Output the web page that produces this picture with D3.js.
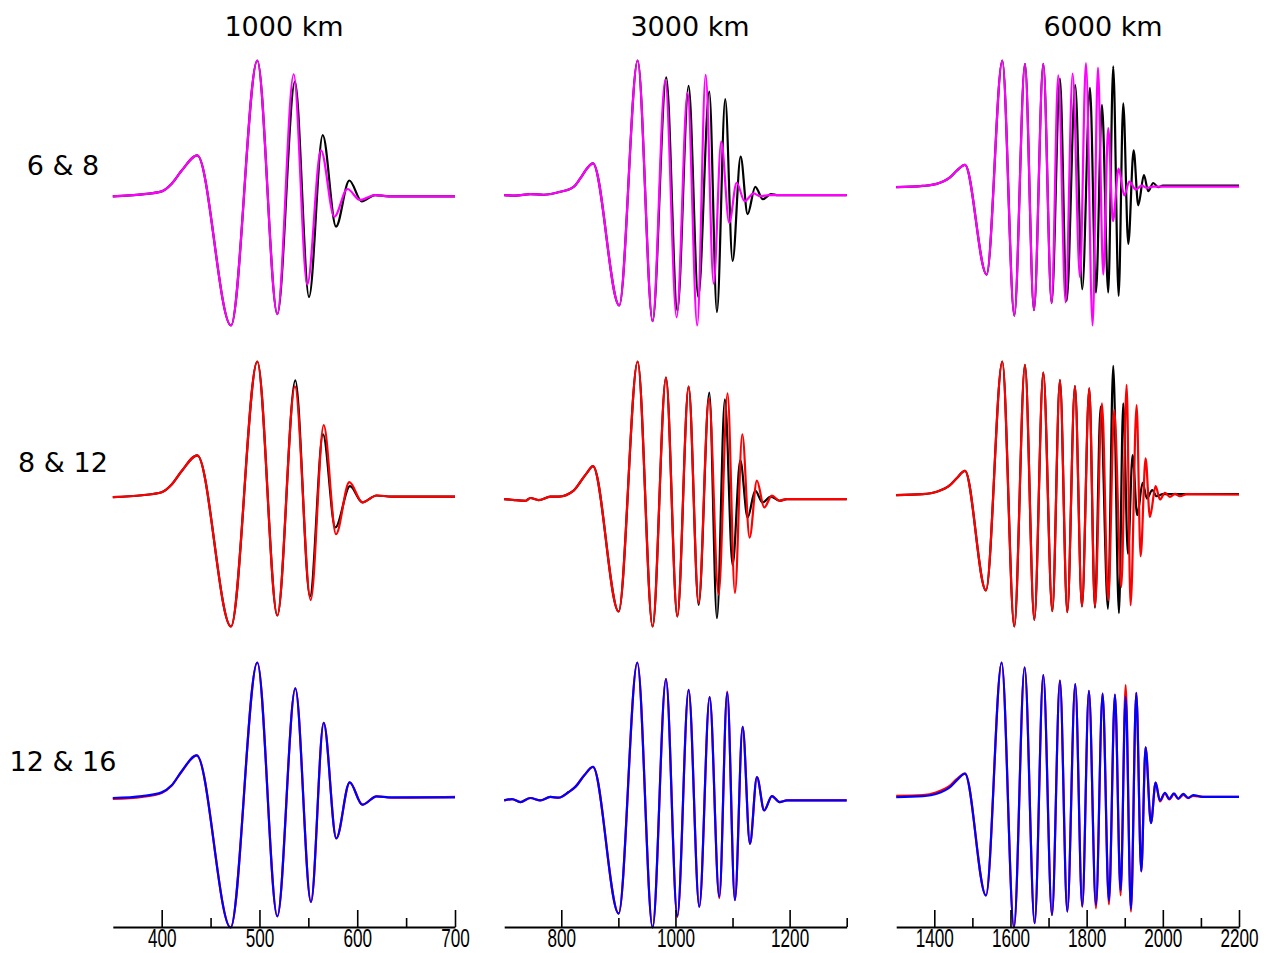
<!DOCTYPE html>
<html>
<head>
<meta charset="utf-8">
<script src="https://cdn.jsdelivr.net/npm/d3@7"></script>
<style>
  html, body { margin: 0; padding: 0; background: #fff; }
  svg { display: block; }
</style>
</head>
<body>
<svg id="chart" width="1270" height="953"></svg>
<script>
// Column and row labels
const columnTitles = ["1000 km", "3000 km", "6000 km"];
const rowLabels = ["6 & 8", "8 & 12", "12 & 16"];

// Time axis of each column
const xDomains = [[350, 700], [700, 1300], [1300, 2200]];
const majorTicks = [[400, 500, 600, 700], [800, 1000, 1200], [1400, 1600, 1800, 2000, 2200]];
const minorTicks = [[450, 550, 650], [900, 1100, 1300], [1500, 1700, 1900, 2100]];

// Waveform samples: [time, amplitude]
// Row 1 (6 & 8)
const w1000_r1_ref = [[350,0],[380,0.015],[400,0.038],[410,0.095],[420.5,0.197],[436.4,0.313],[470.9,-0.987],[497.8,1.038],[518.3,-0.9],[536.3,0.877],[550.7,-0.769],[564.7,0.467],[578.3,-0.231],[591.9,0.121],[604.6,-0.038],[618.2,0.01],[632,0],[700,0]];
const w1000_r1_cmp = [[350,0],[380,0.015],[400,0.038],[410,0.095],[420.5,0.197],[436.4,0.313],[470.9,-0.987],[497.8,1.038],[518.3,-0.9],[535.0,0.933],[548.9,-0.674],[562.9,0.351],[576.6,-0.156],[589.9,0.056],[602.8,-0.028],[618.2,0.01],[632,0],[700,0]];
const w3000_r1_ref = [[700,0],[720,-0.003],[745.8,0.008],[769.1,0.003],[798.3,0.026],[821.6,0.064],[833.3,0.128],[845,0.205],[855.5,0.244],[901.6,-0.846],[933.8,1.033],[960.0,-0.967],[983.9,0.903],[1003.3,-0.887],[1023.1,0.838],[1040,-0.782],[1059.3,0.795],[1072.7,-0.897],[1087.2,0.736],[1100.1,-0.505],[1114.2,0.295],[1126.4,-0.146],[1139.8,0.064],[1153.2,-0.031],[1167.2,0.008],[1180,0],[1300,0]];
const w3000_r1_cmp = [[700,0],[720,-0.003],[745.8,0.008],[769.1,0.003],[798.3,0.026],[821.6,0.064],[833.3,0.128],[845,0.205],[855.5,0.244],[901.6,-0.846],[933.8,1.033],[960.0,-0.967],[982.2,0.885],[1002.1,-0.938],[1021.3,0.787],[1038.2,-1.0],[1052.9,0.923],[1066.9,-0.679],[1080.2,0.41],[1094.2,-0.213],[1107.2,0.095],[1121.2,-0.046],[1137,0.013],[1148.5,-0.008],[1165,0],[1300,0]];
const w6000_r1_ref = [[1300,-0.005],[1370,0.005],[1406.2,0.021],[1441.2,0.072],[1458.8,0.123],[1480.6,0.169],[1537.5,-0.685],[1578.6,0.982],[1610.1,-1.005],[1638.1,0.956],[1661.7,-0.962],[1686.2,0.956],[1708.1,-0.908],[1729.9,0.841],[1747.5,-0.89],[1770.1,0.79],[1788.5,-0.8],[1808.7,0.769],[1824.4,-0.826],[1840.2,0.636],[1856.7,-0.826],[1869.8,0.936],[1884,-0.851],[1896.1,0.649],[1909.3,-0.446],[1923.4,0.282],[1935.5,-0.146],[1950.4,0.09],[1961.7,-0.036],[1974.8,0.028],[1988,-0.005],[2000,0.008],[2200,0.008]];
const w6000_r1_cmp = [[1300,-0.005],[1370,0.005],[1406.2,0.021],[1441.2,0.072],[1458.8,0.123],[1480.6,0.169],[1537.5,-0.685],[1578.6,0.982],[1610.1,-1.005],[1638.1,0.956],[1661.7,-0.962],[1686.2,0.956],[1708.1,-0.908],[1725.5,0.867],[1744.8,-0.903],[1763.2,0.879],[1782.4,-0.705],[1798.2,0.962],[1815.7,-1.082],[1829.7,0.926],[1843.6,-0.685],[1856.7,0.456],[1869,-0.269],[1884,0.141],[1898.8,-0.069],[1911.9,0.038],[1929.4,-0.023],[1944.4,0.008],[1957.4,-0.01],[1975,0],[2200,0]];

// Row 2 (8 & 12)
const w1000_r2_ref = [[350,-0.005],[380,0.01],[400,0.033],[410,0.09],[420.5,0.195],[436.4,0.315],[470.9,-0.992],[497.8,1.031],[518.3,-0.908],[536.7,0.887],[551.7,-0.762],[565,0.474],[577.6,-0.236],[592.6,0.079],[605.2,-0.044],[619.9,0.008],[635,0],[700,0]];
const w1000_r2_cmp = [[350,-0.005],[380,0.01],[400,0.033],[410,0.09],[420.5,0.195],[436.4,0.315],[470.9,-0.992],[497.8,1.031],[518.3,-0.908],[536.3,0.841],[552.4,-0.79],[565.7,0.546],[578.3,-0.287],[591.9,0.11],[605.2,-0.044],[619.9,0.008],[635,0],[700,0]];
const w3000_r2_ref = [[700,0],[718,-0.008],[737.6,-0.013],[745.8,0.008],[760.4,-0.008],[780.8,0.018],[795.4,0.018],[821.6,0.064],[833.3,0.13],[845,0.2],[855.5,0.251],[900.5,-0.859],[933.8,1.051],[960,-0.974],[983.4,0.928],[1003.3,-0.897],[1023.1,0.859],[1040.6,-0.808],[1059.3,0.813],[1072.7,-0.91],[1086.6,0.762],[1100.1,-0.505],[1113.6,0.295],[1126.4,-0.141],[1139.8,0.064],[1152.6,-0.026],[1167.2,0.018],[1182.4,-0.013],[1195.3,0],[1300,0]];
const w3000_r2_cmp = [[700,0],[718,-0.008],[737.6,-0.013],[745.8,0.008],[760.4,-0.008],[780.8,0.018],[795.4,0.018],[821.6,0.064],[833.3,0.13],[845,0.2],[855.5,0.251],[900.5,-0.859],[933.8,1.051],[960,-0.974],[983.4,0.928],[1003.3,-0.897],[1023.1,0.859],[1040.6,-0.795],[1058.7,0.769],[1075.6,-0.731],[1091.3,0.808],[1104.2,-0.718],[1117.1,0.495],[1129.9,-0.295],[1142.7,0.141],[1155.5,-0.064],[1169,0.026],[1182.4,-0.013],[1195.3,0],[1300,0]];
const w6000_r2_ref = [[1300,-0.005],[1370,0.003],[1406.2,0.021],[1441.2,0.072],[1458.8,0.125],[1480.6,0.182],[1535.7,-0.736],[1578.6,1.021],[1610.1,-1.013],[1638.1,0.995],[1662.6,-0.962],[1686.2,0.936],[1709.9,-0.895],[1729.9,0.879],[1749.2,-0.903],[1769.3,0.833],[1787.7,-0.859],[1806.9,0.815],[1821.8,-0.869],[1836.7,0.674],[1856,-0.877],[1869.8,0.987],[1884.8,-0.91],[1896.1,0.7],[1908.4,-0.454],[1920.7,0.303],[1932.8,-0.159],[1947,0.09],[1958.3,-0.031],[1972.2,0.033],[1983.7,-0.013],[2000,0.003],[2200,0.003]];
const w6000_r2_cmp = [[1300,-0.005],[1370,0.003],[1406.2,0.021],[1441.2,0.072],[1458.8,0.125],[1480.6,0.182],[1535.7,-0.736],[1578.6,1.021],[1610.1,-1.013],[1638.1,0.995],[1662.6,-0.962],[1686.2,0.936],[1709.9,-0.895],[1729.9,0.879],[1749.2,-0.903],[1769.3,0.833],[1787.7,-0.859],[1806.9,0.815],[1821.8,-0.859],[1840.2,0.7],[1856.7,-0.813],[1872.4,0.649],[1890.9,-0.71],[1905,0.841],[1915.4,-0.851],[1931.2,0.687],[1941.7,-0.474],[1954.8,0.277],[1966.1,-0.172],[1981.1,0.064],[1992.4,-0.038],[2005.5,0.013],[2018.6,-0.018],[2031.8,0.005],[2044.9,-0.013],[2062.4,0.003],[2200,0]];

// Row 3 (12 & 16)
const w1000_r3_ref = [[350,-0.012],[380,0.004],[400,0.034],[410,0.088],[420.5,0.198],[435.8,0.321],[470.5,-0.995],[497.8,1.031],[518.3,-0.91],[536.7,0.833],[552.7,-0.8],[565.7,0.569],[578.6,-0.313],[592.3,0.115],[605.2,-0.056],[619.9,0.008],[635,-0.003],[700,0.003]];
const w1000_r3_cmp = [[350,-0.005],[380,0.01],[400,0.038],[410,0.09],[420.5,0.2],[435.8,0.321],[470.5,-0.995],[497.8,1.031],[518.3,-0.91],[536.7,0.833],[552.7,-0.8],[565.7,0.569],[578.6,-0.313],[592.3,0.115],[605.2,-0.056],[619.9,0.008],[635,0],[700,0]];
const w3000_r3_ref = [[700,0],[713.7,0.01],[728.2,-0.013],[745.8,0.018],[763.3,0],[780.8,0.026],[795.4,0.021],[812.9,0.064],[824.6,0.103],[840,0.19],[855.5,0.256],[900.5,-0.867],[933.2,1.056],[960,-0.974],[983.4,0.928],[1003.3,-0.892],[1023.1,0.846],[1041.8,-0.815],[1059.9,0.79],[1076.8,-0.749],[1090.7,0.833],[1104.2,-0.764],[1117.7,0.564],[1130.5,-0.333],[1142.7,0.179],[1155.5,-0.077],[1169,0.033],[1182.4,-0.013],[1195.3,0],[1300,0]];
const w3000_r3_cmp = [[700,0],[713.7,0.01],[728.2,-0.013],[745.8,0.018],[763.3,0],[780.8,0.026],[795.4,0.021],[812.9,0.064],[824.6,0.103],[840,0.19],[855.5,0.256],[900.5,-0.867],[933.2,1.056],[960,-0.974],[983.4,0.928],[1003.3,-0.885],[1023.1,0.846],[1041.8,-0.815],[1059.9,0.79],[1076.8,-0.738],[1090.7,0.826],[1104.2,-0.764],[1117.7,0.564],[1130.5,-0.333],[1142.7,0.179],[1155.5,-0.077],[1169,0.033],[1182.4,-0.013],[1195.3,0],[1300,0]];
const w6000_r3_ref = [[1300,0.008],[1370,0.013],[1406.2,0.035],[1441.2,0.085],[1458.8,0.135],[1480.6,0.177],[1535.7,-0.751],[1576.9,1.023],[1609.2,-0.995],[1637.2,0.987],[1663.5,-0.962],[1686.2,0.928],[1709,-0.9],[1729.9,0.885],[1749.2,-0.874],[1770.1,0.859],[1788.5,-0.838],[1806,0.808],[1824.4,-0.85],[1841.9,0.787],[1858.5,-0.82],[1874.3,0.779],[1889.2,-0.75],[1902.4,0.851],[1916.3,-0.875],[1930.3,0.792],[1943.4,-0.567],[1954.8,0.377],[1968.8,-0.2],[1981.1,0.108],[1992.4,-0.035],[2005.5,0.025],[2016.9,-0.02],[2029.2,0.02],[2040.6,-0.015],[2053.6,0.015],[2066.7,-0.01],[2079.8,0.008],[2106,0],[2200,0]];
const w6000_r3_cmp = [[1300,-0.003],[1370,0.005],[1406.2,0.023],[1441.2,0.074],[1458.8,0.125],[1480.6,0.177],[1535.7,-0.751],[1576.9,1.023],[1609.2,-0.995],[1637.2,0.987],[1663.5,-0.962],[1686.2,0.928],[1709,-0.9],[1729.9,0.885],[1749.2,-0.874],[1770.1,0.859],[1788.5,-0.833],[1806,0.808],[1824.4,-0.823],[1841.9,0.787],[1858.5,-0.79],[1874.3,0.779],[1889.2,-0.713],[1902.4,0.762],[1916.3,-0.854],[1930.3,0.792],[1943.4,-0.567],[1954.8,0.377],[1968.8,-0.2],[1981.1,0.108],[1992.4,-0.028],[2005.5,0.031],[2016.9,-0.015],[2029.2,0.026],[2040.6,-0.013],[2053.6,0.023],[2066.7,-0.008],[2079.8,0.013],[2106,0],[2200,0]];

// Line colours per row: [reference trace, comparison trace drawn on top]
const rowColors = [["#000000", "#ff00ff"], ["#000000", "#ff0000"], ["#ff0000", "#0000ff"]];

const panels = [
  [[w1000_r1_ref, w1000_r1_cmp], [w3000_r1_ref, w3000_r1_cmp], [w6000_r1_ref, w6000_r1_cmp]],
  [[w1000_r2_ref, w1000_r2_cmp], [w3000_r2_ref, w3000_r2_cmp], [w6000_r2_ref, w6000_r2_cmp]],
  [[w1000_r3_ref, w1000_r3_cmp], [w3000_r3_ref, w3000_r3_cmp], [w6000_r3_ref, w6000_r3_cmp]]
];

// Layout
const colX = [[112.8, 455], [504.2, 846.7], [896.2, 1239]];
const rowTop = [60.5, 361.5, 662.5];
const rowHeight = 265;
const axisY = 927;
const titleX = [284, 690, 1103];
const titleY = 35.5;
const rowLabelX = 63;
const rowLabelY = [175, 471.5, 770.5];

const svg = d3.select("#chart");

const xScales = xDomains.map((d, i) => d3.scaleLinear().domain(d).range(colX[i]));

panels.forEach((row, r) => {
  row.forEach((series, c) => {
    const all = series.flat();
    const y = d3.scaleLinear()
      .domain(d3.extent(all, d => d[1]))
      .range([rowTop[r] + rowHeight, rowTop[r]]);
    const line = d3.line()
      .x(d => xScales[c](d[0]))
      .y(d => y(d[1]))
      .curve(d3.curveMonotoneX);
    const g = svg.append("g");
    series.forEach((s, k) => {
      g.append("path")
        .attr("d", line(s))
        .attr("fill", "none")
        .attr("stroke", rowColors[r][k])
        .attr("stroke-width", 2.2)
        .attr("stroke-linejoin", "round");
    });
  });
});

// Bottom time axes
xScales.forEach((x, c) => {
  const minor = svg.append("g")
    .attr("transform", `translate(0,${axisY})`)
    .call(d3.axisBottom(x).tickValues(minorTicks[c]).tickSize(-9).tickSizeOuter(0).tickFormat(""));
  minor.select(".domain").remove();
  minor.selectAll(".tick line").attr("stroke", "#000").attr("stroke-width", 1.6);

  const major = svg.append("g")
    .attr("transform", `translate(0,${axisY})`)
    .call(d3.axisBottom(x).tickValues(majorTicks[c]).tickSize(-17).tickSizeOuter(0).tickPadding(2).tickFormat(d3.format("d")));
  major.select(".domain").attr("stroke", "#000").attr("stroke-width", 2);
  major.selectAll(".tick line").attr("stroke", "#000").attr("stroke-width", 1.6);
  major.selectAll(".tick text")
    .attr("font-family", "'Liberation Sans', Arial, sans-serif")
    .attr("font-size", 26)
    .attr("fill", "#000")
    .attr("transform", "scale(0.66,1)");
});

// Column titles
svg.selectAll("text.col-title")
  .data(columnTitles)
  .join("text")
  .attr("class", "col-title")
  .attr("x", (d, i) => titleX[i])
  .attr("y", titleY)
  .attr("text-anchor", "middle")
  .attr("font-family", "'DejaVu Sans', sans-serif")
  .attr("font-size", 27)
  .attr("fill", "#000")
  .text(d => d);

// Row labels
svg.selectAll("text.row-label")
  .data(rowLabels)
  .join("text")
  .attr("class", "row-label")
  .attr("x", rowLabelX)
  .attr("y", (d, i) => rowLabelY[i])
  .attr("text-anchor", "middle")
  .attr("font-family", "'DejaVu Sans', sans-serif")
  .attr("font-size", 27)
  .attr("fill", "#000")
  .text(d => d);
</script>
</body>
</html>
